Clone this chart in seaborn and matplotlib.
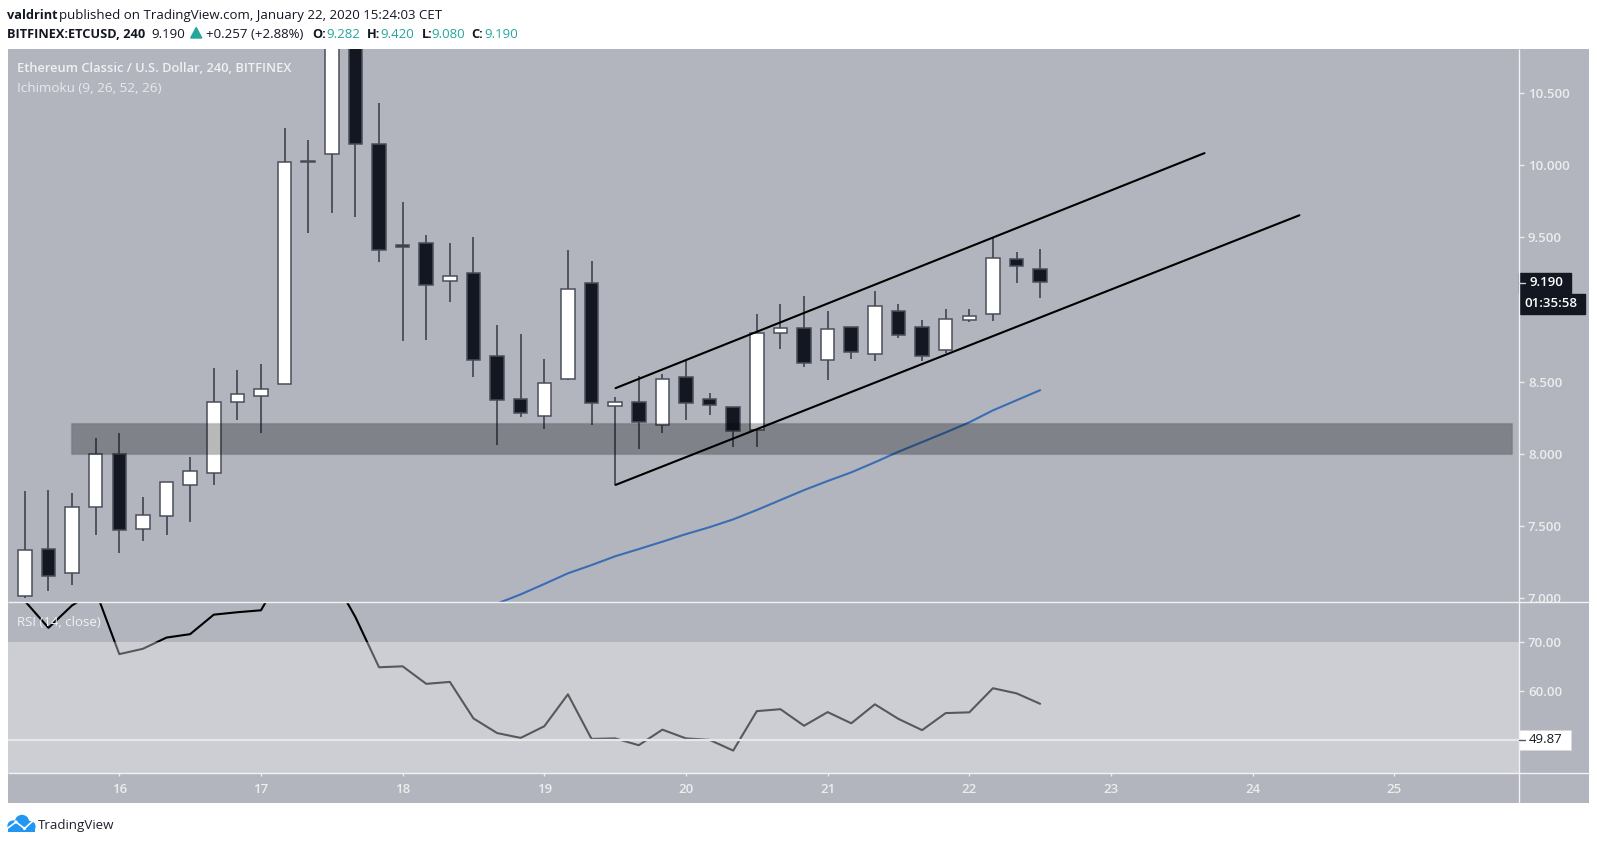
import numpy as np
import pandas as pd
import matplotlib
matplotlib.use("Agg")
import matplotlib.pyplot as plt
from matplotlib.patches import Rectangle, Circle, Polygon
import seaborn as sns

# ---------- data ----------
opens = [7.01, 7.34, 7.17, 7.63, 7.995, 7.48, 7.57, 7.78, 7.865, 8.36, 8.40, 8.48,
         10.03, 10.075, 11.20, 10.15, 9.45, 9.46, 9.20, 9.255, 8.68, 8.38, 8.26, 8.52,
         9.185, 8.33, 8.36, 8.20, 8.53, 8.38, 8.32, 8.165, 8.835, 8.87, 8.65, 8.88,
         8.69, 8.99, 8.88, 8.72, 8.925, 8.965, 9.35, 9.282]
highs = [7.74, 7.75, 7.725, 8.11, 8.145, 7.70, 7.80, 7.975, 8.595, 8.58, 8.62, 10.26,
         10.175, 11.40, 11.40, 10.43, 9.745, 9.515, 9.46, 9.50, 8.89, 8.83, 8.655, 9.41,
         9.335, 8.395, 8.54, 8.55, 8.64, 8.42, 8.32, 8.97, 9.04, 9.09, 8.99, 8.88,
         9.13, 9.04, 8.93, 9.00, 9.00, 9.50, 9.395, 9.42]
lows = [7.00, 7.05, 7.09, 7.435, 7.31, 7.395, 7.435, 7.525, 7.785, 8.23, 8.145, 8.48,
        9.53, 9.67, 9.64, 9.33, 8.78, 8.79, 9.05, 8.53, 8.06, 8.255, 8.17, 8.51,
        8.20, 7.78, 8.035, 8.14, 8.23, 8.265, 8.045, 8.045, 8.725, 8.60, 8.51, 8.655,
        8.645, 8.805, 8.64, 8.695, 8.915, 8.92, 9.18, 9.08]
closes = [7.33, 7.15, 7.63, 7.995, 7.47, 7.575, 7.80, 7.88, 8.36, 8.41, 8.45, 10.02,
          10.02, 11.20, 10.145, 9.41, 9.43, 9.17, 9.23, 8.65, 8.37, 8.28, 8.49, 9.14,
          8.35, 8.355, 8.22, 8.515, 8.35, 8.335, 8.155, 8.835, 8.87, 8.625, 8.865, 8.705,
          9.025, 8.825, 8.675, 8.935, 8.957, 9.36, 9.30, 9.19]
rsi_values = [78.4, 72.9, 77.5, 80.5, 67.5, 68.6, 70.9, 71.6, 75.6, 76.1, 76.5, 84.9,
              85.0, 83.7, 75.1, 64.8, 65.0, 61.4, 61.8, 54.3, 51.3, 50.3, 52.7, 59.25,
              50.1, 50.2, 48.8, 52.0, 50.2, 49.9, 47.7, 55.8, 56.2, 52.8, 55.6, 53.3,
              57.2, 54.2, 51.9, 55.4, 55.55, 60.5, 59.45, 57.3]
ichimoku_start = 20
ichimoku_values = [6.96, 7.024, 7.096, 7.17, 7.227, 7.288, 7.338, 7.389, 7.442, 7.49,
                   7.544, 7.609, 7.678, 7.747, 7.81, 7.87, 7.94, 8.013, 8.08, 8.147,
                   8.217, 8.30, 8.37, 8.44]
upper_channel_t = [19.503, 23.66]
upper_channel_p = [8.454, 10.084]
lower_channel_t = [19.503, 24.33]
lower_channel_p = [7.783, 9.653]
zone_t = [15.657, 25.83]
zone_p = [8.0, 8.21]
price_ticks = [7.0, 7.5, 8.0, 8.5, 9.0, 9.5, 10.0, 10.5]
rsi_ticks = [60, 70]
day_ticks = [16, 17, 18, 19, 20, 21, 22, 23, 24, 25]
rsi_level = 49.87

first_t = 15 + 1 / 3
step = 1 / 6
times = first_t + np.arange(len(opens)) * step
df = pd.DataFrame({"t": times, "o": opens, "h": highs, "l": lows, "c": closes, "rsi": rsi_values})
df["up"] = df["c"] >= df["o"]
df_ichi = pd.DataFrame({"t": times[ichimoku_start:], "v": ichimoku_values})

# ---------- style ----------
W, H = 1597, 844
sns.set_theme(style="white")
FONT = ["Open Sans", "DejaVu Sans"]
plt.rcParams["font.family"] = FONT
BG = "#b2b5be"
DARK = "#131722"
EDGE = "#4a4e5a"
LABEL = "#eceded"
TEAL = "#26a69a"

fig = plt.figure(figsize=(W / 100, H / 100), dpi=100, facecolor="white")


def rect(x0, y0, x1, y1):
    return [x0 / W, 1 - y1 / H, (x1 - x0) / W, (y1 - y0) / H]


# strip behind the panes (price axis, time axis)
strip = fig.add_axes(rect(8, 49, 1589, 803), facecolor=BG, zorder=0)
strip.set_axis_off()
strip.add_patch(Rectangle((0, 0), 1, 1, transform=strip.transAxes, color=BG))

ax = fig.add_axes(rect(8, 49, 1519, 602), facecolor=BG, zorder=1)
ax2 = fig.add_axes(rect(8, 602, 1519, 773), facecolor=BG, zorder=2)
xlim = (15.2144, 25.88)

# ---------- candles ----------
ax.vlines(df["t"], df["l"], df["h"], color="#363a45", lw=1.1, zorder=2)
body_w = 0.0955
for up, g in df.groupby("up"):
    bottoms = g[["o", "c"]].min(axis=1)
    heights = (g["c"] - g["o"]).abs()
    ax.bar(g["t"], heights, width=body_w, bottom=bottoms,
           color="#ffffff" if up else DARK, edgecolor=EDGE, linewidth=1.1, zorder=3)

sns.lineplot(data=df_ichi, x="t", y="v", ax=ax, color="#3a6db3", lw=1.5, zorder=2.5, legend=False)
ax.add_patch(Rectangle((zone_t[0], zone_p[0]), zone_t[1] - zone_t[0], zone_p[1] - zone_p[0],
                       facecolor=(0, 0, 0, 0.28), edgecolor=(0, 0, 0, 0.08), lw=1, zorder=4))
sns.lineplot(x=upper_channel_t, y=upper_channel_p, ax=ax, color="black", lw=1.5, zorder=5, legend=False)
sns.lineplot(x=lower_channel_t, y=lower_channel_p, ax=ax, color="black", lw=1.5, zorder=5, legend=False)

ax.set_xlim(*xlim)
ax.set_ylim(6.971, 10.806)
ax.set_xlabel("")
ax.set_ylabel("")
ax.set_xticks([])
ax.yaxis.tick_right()
ax.set_yticks(price_ticks)
ax.set_yticklabels([f"{p:.3f}" for p in price_ticks], fontsize=9.5, color=LABEL, fontweight="semibold")
ax.tick_params(axis="y", length=3.6, width=1, color=LABEL, pad=2.8, right=True)
for s in ax.spines.values():
    s.set_visible(False)

# ---------- RSI pane ----------
sns.lineplot(data=df, x="t", y="rsi", ax=ax2, color="black", lw=1.5, zorder=2, legend=False)
ax2.axhspan(43.1, 70, facecolor=(1, 1, 1, 0.35), edgecolor="none", zorder=3)
ax2.axhline(rsi_level, color="#e6e7ea", lw=1.6, zorder=4)
ax2.set_xlim(*xlim)
ax2.set_ylim(43.1, 78.2)
ax2.set_xlabel("")
ax2.set_ylabel("")
ax2.set_xticks(day_ticks)
ax2.set_xticklabels([str(d) for d in day_ticks], fontsize=9.5, color=LABEL, fontweight="semibold")
ax2.yaxis.tick_right()
ax2.set_yticks(rsi_ticks)
ax2.set_yticklabels([f"{v:.2f}" for v in rsi_ticks], fontsize=9.5, color=LABEL, fontweight="semibold")
ax2.tick_params(axis="y", length=3.6, width=1, color=LABEL, pad=2.8, right=True)
ax2.tick_params(axis="x", length=2.5, width=1, color=LABEL, pad=5, bottom=True)
for s in ax2.spines.values():
    s.set_visible(False)

# ---------- overlay in pixel coordinates (labels, frames, boxes, logo) ----------
ov = fig.add_axes([0, 0, 1, 1], zorder=10, facecolor="none")
ov.set_xlim(0, W)
ov.set_ylim(H, 0)
ov.set_axis_off()

for (xs, ys) in [([8, 1589], [602, 602]), ([8, 1589], [773, 773]), ([1519, 1519], [49, 803])]:
    ov.plot(xs, ys, color="#f2f2f4", lw=1.0, solid_capstyle="butt")


def txt(x, y, s, color=DARK, size=9.5, weight="normal", ha="left"):
    return ov.text(x, y, s, color=color, fontsize=size, fontweight=weight, ha=ha, va="center")


HS = 9.53
HB = 9.2
y1, y2 = 15.5, 34.5
txt(7, y1, "valdrint", weight="bold", size=HB)
txt(59, y1, "published on TradingView.com, January 22, 2020 15:24:03 CET", size=HS)
txt(7, y2, "BITFINEX:ETCUSD, 240", weight="bold", size=HB)
txt(151.4, y2, "9.190", size=HS)
ov.add_patch(Polygon([[190.7, 38], [201.8, 38], [196.2, 27.5]], color=TEAL))
txt(205.7, y2, "+0.257 (+2.88%)", size=HS)
for x_l, lab, x_v, val in [(311.8, "O:", 326.8, "9.282"), (367, "H:", 380.4, "9.420"),
                           (421.4, "L:", 431.4, "9.080"), (471.4, "C:", 484, "9.190")]:
    txt(x_l, y2, lab, weight="bold", size=HB)
    txt(x_v, y2, val, color=TEAL, size=HS)

txt(17, 69, "Ethereum Classic / U.S. Dollar, 240, BITFINEX", color="#f0f1f3", size=9.3, weight="semibold")
txt(17, 88, "Ichimoku (9, 26, 52, 26)", color="#e8e9ec", size=9.7)
txt(17, 623, "RSI (14, close)", color="#f0f1f3", size=9.5)

# last-price, countdown and RSI boxes
ov.add_patch(Rectangle((1519, 272.5), 52, 20, color=DARK))
txt(1529, 282.5, "9.190", color="white", size=9.5, weight="semibold")
ov.plot([1519, 1525], [282.5, 282.5], color="#d0d2d8", lw=1)
ov.add_patch(Rectangle((1520, 293.5), 65, 20, color=DARK))
txt(1524, 303.5, "01:35:58", color="white", size=9.5, weight="semibold")
ov.add_patch(Rectangle((1519, 729.5), 52, 20, facecolor="white", edgecolor="#d8d9dd", lw=0.6))
txt(1529, 739.7, "49.87", color=DARK, size=9.5)
ov.plot([1519, 1525], [739.7, 739.7], color="#555963", lw=1)

# TradingView logo
BLUE = "#2196f3"
for cx, cy, r in [(13, 826, 5.6), (22, 822, 7.2), (30, 826.5, 5.6)]:
    ov.add_patch(Circle((cx, cy), r, color=BLUE, lw=0))
ov.add_patch(Rectangle((8, 825), 27, 6.8, color=BLUE, lw=0))
ov.plot([6.5, 16, 24.5, 35], [829, 822, 828.5, 819], color="white", lw=1.2)
ov.add_patch(Circle((16, 822), 1.6, color="white", lw=0))
ov.add_patch(Circle((24.5, 828.5), 1.6, color="white", lw=0))
txt(38, 825, "TradingView", color="#1e222d", size=9.6)

fig.savefig("out.png", dpi=100, facecolor="white")
